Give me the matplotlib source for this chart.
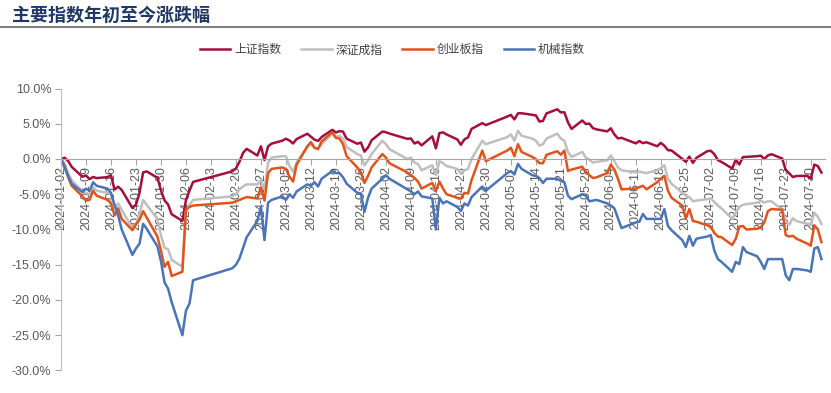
import matplotlib
matplotlib.use("Agg")
import matplotlib.pyplot as plt
from matplotlib.lines import Line2D
import pandas as pd

plt.rcParams['font.family'] = ['Liberation Sans', 'Noto Sans CJK SC', 'DejaVu Sans']

# trading days 2024-01-02 .. 2024-08-02 (SSE holidays removed)
holidays = ['2024-02-09', '2024-02-12', '2024-02-13', '2024-02-14', '2024-02-15',
            '2024-02-16', '2024-04-04', '2024-04-05', '2024-05-01', '2024-05-02',
            '2024-05-03', '2024-06-10']
dates = pd.bdate_range('2024-01-02', '2024-08-02')
dates = dates[~dates.isin(pd.to_datetime(holidays))]

# year-to-date change, %  (one row per month: Jan, Feb, Mar, Apr, May, Jun, Jul, Aug)
sh = [0, 0.17, -0.27, -1.12, -2.52, -2.33, -2.86, -2.55, -2.71, -2.57, -2.31, -4.34, -3.93, -4.39, -6.95, -6.47, -4.78, -1.90, -1.76, -2.66, -4.45, -5.86,
      -6.47, -7.84, -8.78, -5.83, -4.48, -3.25, -1.75, -1.34, -0.38, 0.88, 1.44, 0.50, 1.80, -0.15, 1.79,
      2.18, 2.60, 2.88, 2.62, 2.20, 2.83, 3.58, 3.16, 2.75, 2.56, 3.12, 4.14, 3.76, 3.96, 3.88, 2.89, 2.16, 2.34, 1.04, 1.63, 2.66,
      3.89, 3.80, 3.61, 2.86, 2.91, 2.20, 2.43, 1.93, 3.21, 1.51, 3.68, 3.78, 3.48, 2.78, 2.02, 2.79, 3.06, 4.27, 5.09, 4.81,
      6.02, 6.26, 5.61, 6.48, 6.49, 6.27, 6.19, 5.32, 5.40, 6.47, 7.05, 6.61, 6.63, 5.20, 4.27, 5.46, 4.97, 5.02, 4.37, 4.20,
      3.92, 4.35, 3.48, 2.92, 3.00, 2.22, 2.54, 2.25, 2.38, 1.81, 2.29, 1.88, 1.25, 1.21, 0.03, -0.41, 0.34, -0.55, 0.17,
      1.10, 1.17, 0.68, -0.16, -0.42, -1.34, -0.10, -0.77, 0.27, 0.30, 0.40, 0.47, 0.00, 0.50, 0.68, 0.07, -1.58, -2.04, -2.56, -2.41, -2.38, -2.80, -0.79,
      -1.01, -1.92]

sz = [0, -0.6, -2.0, -3.0, -4.6, -4.8, -5.0, -4.0, -4.5, -4.8, -5.0, -7.0, -6.3, -7.2, -9.8, -9.2, -7.8, -5.8, -6.5, -8.5, -10.8, -12.6,
      -12.8, -14.3, -15.3, -7.4, -6.5, -5.8, -5.3, -5.0, -4.3, -3.9, -3.6, -3.6, -3.0, -4.3, -0.5,
      0.2, 0.4, 0.4, -1.0, -1.8, -0.5, 1.7, 2.1, 1.6, 1.5, 2.1, 3.6, 3.1, 3.3, 2.9, 1.7, 0.7, 0.5, -0.9, -0.2, 0.7,
      2.6, 2.1, 1.4, 0.0, 0.2, -0.5, -0.7, -1.6, -0.9, -2.3, -0.3, -0.6, -1.0, -1.4, -2.1, -1.6, -1.4, 0.0, 2.6, 2.1,
      3.1, 3.5, 2.6, 4.0, 3.3, 2.9, 2.6, 1.9, 2.1, 2.9, 3.6, 2.9, 2.6, 1.0, 0.3, 1.0, 0.2, -0.1, -0.5, -0.4,
      -0.2, 0.5, -0.3, -1.2, -1.6, -1.9, -1.8, -1.9, -2.0, -1.6, -1.3, -0.9, -2.8, -3.5, -4.8, -5.2, -5.4, -6.0, -5.9,
      -5.7, -5.6, -6.1, -6.6, -7.0, -8.5, -7.6, -6.8, -6.5, -6.4, -6.2, -5.9, -6.2, -6.0, -6.0, -7.2, -8.8, -9.3, -8.4, -8.8, -9.2, -9.4, -7.6,
      -8.2, -9.2]

cyb = [0, -1.0, -2.6, -3.8, -5.3, -5.9, -5.8, -4.5, -5.2, -5.8, -6.3, -8.0, -7.0, -8.5, -10.1, -9.3, -8.6, -7.4, -8.3, -11.0, -13.0, -15.3,
       -14.6, -16.6, -16.0, -7.2, -6.8, -6.6, -6.2, -6.0, -5.8, -5.6, -5.4, -5.6, -4.0, -5.9, -2.0,
       -1.4, -1.2, -1.4, -2.5, -3.2, -0.8, 1.8, 2.4, 1.6, 1.4, 2.5, 3.8, 3.0, 2.9, 2.1, 0.4, -1.2, -1.9, -3.4, -2.4, -1.2,
       0.7, 0.2, -0.6, -1.9, -2.3, -2.7, -3.2, -4.2, -3.4, -4.5, -3.2, -4.2, -5.0, -5.5, -5.6, -4.8, -4.9, -3.0, 1.2, -0.3,
       1.2, 1.6, 0.4, 2.1, 1.0, 0.3, 0.0, -0.6, -0.6, 0.6, 1.1, 0.6, 1.2, -1.7, -1.5, -1.1, -1.8, -2.3, -2.7, -2.6,
       -2.0, -0.8, -1.5, -2.8, -4.3, -4.2, -4.0, -3.8, -4.3, -3.3, -2.8, -2.4, -4.5, -5.5, -6.6, -8.4, -7.1, -8.8, -8.9,
       -9.4, -9.6, -10.5, -11.0, -11.1, -12.2, -11.3, -9.6, -9.5, -10.0, -9.9, -9.7, -9.0, -7.4, -7.1, -7.2, -10.8, -11.0, -10.9, -11.3, -12.0, -12.3, -9.4,
       -10.0, -11.8]

jx = [0, -1.2, -2.4, -3.5, -4.7, -4.2, -4.5, -3.3, -3.8, -4.2, -4.8, -6.5, -8.0, -10.0, -13.6, -12.7, -12.0, -9.2, -9.9, -12.4, -14.5, -17.5,
      -18.4, -20.3, -25.0, -21.5, -20.5, -17.2, -15.5, -15.0, -14.1, -12.6, -11.1, -8.8, -6.8, -11.5, -6.2,
      -5.8, -5.3, -5.8, -5.0, -5.5, -4.6, -3.6, -3.8, -3.3, -3.9, -2.8, -1.7, -2.0, -2.0, -2.6, -3.5, -4.8, -4.9, -7.5, -5.5, -4.2,
      -2.8, -2.3, -2.8, -4.3, -4.6, -5.0, -4.6, -5.3, -5.6, -10.0, -5.5, -6.3, -6.0, -6.8, -7.4, -6.3, -6.6, -5.4, -3.9, -4.5,
      -2.0, -1.7, -2.2, -0.7, -1.4, -2.3, -2.4, -2.7, -3.4, -2.8, -2.8, -3.1, -3.3, -5.2, -5.7, -5.0, -5.2, -6.0, -5.9, -5.8,
      -6.3, -6.6, -7.0, -8.4, -9.8, -9.0, -8.9, -7.8, -8.5, -8.5, -8.5, -7.1, -9.5, -10.1, -11.5, -12.5, -10.9, -12.3, -11.3,
      -11.0, -10.8, -13.0, -14.2, -14.6, -16.0, -14.6, -14.9, -12.5, -13.2, -13.8, -14.6, -15.6, -14.2, -14.2, -14.2, -16.5, -17.2, -15.6, -15.6, -15.8, -16.0, -12.7,
      -12.5, -14.2]

names = ['上证指数', '深证成指', '创业板指', '机械指数']
colors = ['#A50F3C', '#BFBFBF', '#E0541C', '#4A74B8']
yticks = [-30, -25, -20, -15, -10, -5, 0, 5, 10]
xticks = pd.date_range('2024-01-02', '2024-07-30', freq='7D')

fig = plt.figure(figsize=(8.31, 3.93), dpi=100)
ax = fig.add_axes([0.0734, 0.0573, 0.9194, 0.7175])

for vals, c, n in zip([sh, sz, cyb, jx], colors, names):
    ax.plot(dates, vals, color=c, lw=1.8, label=n)

ax.set_ylim(-30, 10)
ax.set_xlim(pd.Timestamp('2024-01-02'), pd.Timestamp('2024-08-03'))
ax.set_yticks(yticks)
ax.set_yticklabels([f'{v:.1f}%' for v in yticks])
ax.set_xticks(xticks)
ax.set_xticklabels([d.strftime('%Y-%m-%d') for d in xticks])

ax.spines['top'].set_visible(False)
ax.spines['right'].set_visible(False)
ax.spines['bottom'].set_position(('data', 0))
ax.spines['bottom'].set_color('#A6A6A6')
ax.spines['left'].set_color('#BFBFBF')
ax.tick_params(axis='both', colors='#A6A6A6', labelcolor='#595959', labelsize=9, length=4)
ax.tick_params(axis='x', pad=1, labelrotation=90)
ax.tick_params(axis='y', pad=3)

# title with rule underneath
fig.text(0.014, 0.962, '主要指数年初至今涨跌幅', family=['Noto Sans CJK SC'],
         fontsize=13, fontweight='bold', color='#1F3864', va='center', ha='left')
fig.add_artist(Line2D([0, 1], [0.931, 0.931], color='#7F7F7F', lw=1.5))

leg = fig.legend(loc='center', bbox_to_anchor=(0.472, 0.873), ncol=4, frameon=False,
                 prop={'family': ['Noto Sans CJK SC'], 'size': 8.5},
                 handlelength=2.6, handletextpad=0.3, columnspacing=1.7)
for t in leg.get_texts():
    t.set_color('#404040')

fig.savefig('out.png', dpi=100, facecolor='white')
